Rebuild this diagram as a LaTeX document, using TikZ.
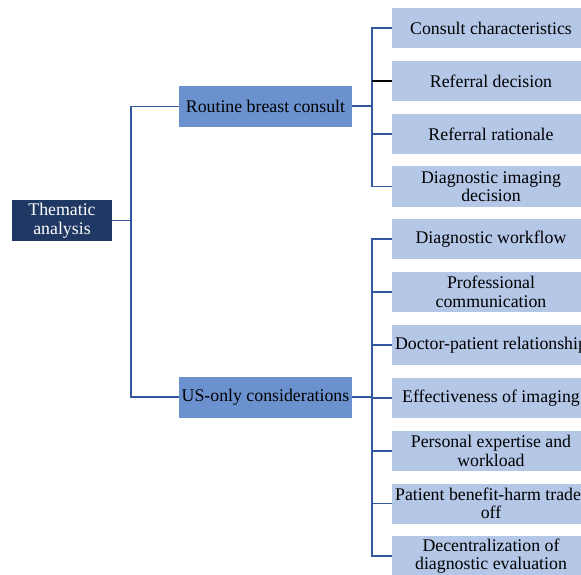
\documentclass[tikz,border=0pt]{standalone}
\usepackage{fontspec}
\setmainfont{Liberation Serif}
\definecolor{darkbox}{RGB}{32,56,100}
\definecolor{midbox}{RGB}{107,146,207}
\definecolor{lightbox}{RGB}{180,199,231}
\definecolor{linkc}{RGB}{52,88,160}
\tikzset{
  txt/.style={font=\fontsize{17.8bp}{18.5bp}\selectfont},
  rootbox/.style={txt, fill=darkbox, text=white, minimum width=100bp, minimum height=41bp, inner sep=0pt, align=center},
  midnode/.style={txt, fill=midbox, text=black, minimum width=173bp, minimum height=41bp, inner sep=0pt, align=center},
  leafbox/.style={txt, fill=lightbox, text=black, minimum width=198bp, minimum height=40bp, inner sep=0pt, align=center},
  link/.style={draw=linkc, line width=1.3bp},
  trunk/.style={draw=linkc, line width=2bp}
}
\begin{document}
\begin{tikzpicture}[x=1bp,y=-1bp]
\useasboundingbox (0,0) rectangle (581,575);
\clip (0,0) rectangle (581,575);
\fill[white] (0,0) rectangle (581,575);

\node[rootbox] (root) at (62,220.5) {Thematic\\analysis};
\node[midnode] (rbc) at (265.5,106.5) {Routine breast consult};
\node[midnode] (us) at (265.5,397) {US-only considerations};

\node[leafbox] (c1) at (491,28) {Consult characteristics};
\node[leafbox] (c2) at (491,81) {Referral decision};
\node[leafbox] (c3) at (491,134) {Referral rationale};
\node[leafbox] (c4) at (491,186.5) {Diagnostic imaging\\decision};

\node[leafbox] (u1) at (491,239) {Diagnostic workflow};
\node[leafbox] (u2) at (491,292) {Professional\\communication};
\node[leafbox] (u3) at (491,345) {Doctor-patient relationship};
\node[leafbox] (u4) at (491,398) {Effectiveness of imaging};
\node[leafbox] (u5) at (491,451) {Personal expertise and\\workload};
\node[leafbox] (u6) at (491,503.5) {Patient benefit-harm trade-\\off};
\node[leafbox] (u7) at (491,556) {Decentralization of\\diagnostic evaluation};

% root connectors
\coordinate (jr) at (131,220.5);
\draw[link] (root.east) -- (jr);
\draw[link] (jr) |- (rbc.west);
\draw[link] (jr) |- (us.west);

% routine branch
\coordinate (ja) at (372,106.5);
\draw[trunk] (rbc.east) -- (ja);
\draw[link] (ja) |- (c1.west);
\draw[link] (ja) |- (c4.west);
\draw[link] (c3.west -| ja) -- (c3.west);
\draw[draw=black, line width=1.3bp] (c2.west -| ja) -- (c2.west);

% US-only branch
\coordinate (jb) at (372,397);
\draw[trunk] (us.east) -- (jb);
\foreach \n in {u1,u2,u3,u4,u5,u6,u7} {
  \draw[link] (jb) |- (\n.west);
}
\end{tikzpicture}
\end{document}
